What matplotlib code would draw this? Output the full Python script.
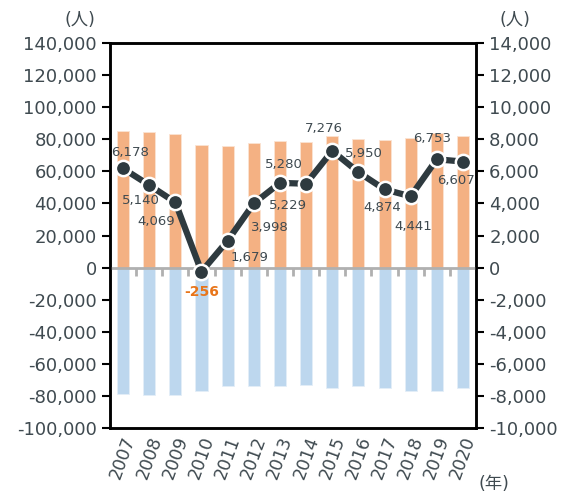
import matplotlib.pyplot as plt
import numpy as np

plt.rcParams['font.family'] = ['DejaVu Sans', 'Noto Sans CJK JP']

years = ['2007', '2008', '2009', '2010', '2011', '2012', '2013',
         '2014', '2015', '2016', '2017', '2018', '2019', '2020']
# births (positive bars) and deaths (negative bars), left axis
births = [85000, 84400, 83300, 76300, 75800, 77700, 79200,
          78100, 82100, 80000, 79400, 81000, 83800, 81900]
deaths = [-79000, -79400, -79600, -76700, -74000, -73500, -74000,
          -72900, -75000, -74000, -74800, -76700, -76900, -75200]
# natural change, right axis
change = [6178, 5140, 4069, -256, 1679, 3998, 5280,
          5229, 7276, 5950, 4874, 4441, 6753, 6607]
# label offsets in pixels (dx, dy)
label_off = [(7, 16), (-8, -15), (-19, -19), (0, -20), (22, -17), (16, -24), (4, 18),
             (-18, -22), (-8, 22), (6, 19), (-2, -18), (3, -30), (-5, 21), (-7, -19)]

txt = '#3f4a50'
fig = plt.figure(figsize=(5.69, 4.93), dpi=100)
ax = fig.add_axes([0.1933, 0.1318, 0.6433, 0.781])
x = np.arange(len(years))
ymin, ymax = -100000, 140000

ax.bar(x, births, width=0.46, color='#F4B183', edgecolor='#fbe3d3', linewidth=0.6, zorder=2)
ax.bar(x, deaths, width=0.46, color='#BDD7EE', edgecolor='#e4eef8', linewidth=0.6, zorder=2)
ax.set_xlim(-0.5, len(years) - 0.5)
ax.set_ylim(ymin, ymax)
ax.set_yticks(np.arange(ymin, ymax + 1, 20000))
ax.yaxis.set_major_formatter(plt.FuncFormatter(lambda v, p: f'{int(v):,}'))
ax.set_xticks(x)
ax.set_xticklabels(years, rotation=70, fontsize=12.5, color=txt)
ax.tick_params(axis='x', length=0, pad=4)
ax.tick_params(axis='y', labelsize=13, labelcolor=txt, direction='out', length=6, width=1.5)
for s in ax.spines.values():
    s.set_linewidth(1.8)
    s.set_color('black')

# zero line with category boundary ticks
ax.axhline(0, color='#b0b0b0', lw=2, zorder=3)
sec = ax.secondary_xaxis(-ymin / (ymax - ymin))
sec.xaxis.set_ticks_position('bottom')
sec.set_xticks(np.arange(0.5, len(years) - 1, 1))
sec.set_xticklabels([])
sec.tick_params(axis='x', direction='out', length=6, width=2, color='#b0b0b0')
sec.spines['bottom'].set_visible(False)
sec.spines['top'].set_visible(False)

ax2 = ax.twinx()
ax2.set_ylim(-10000, 14000)
ax2.set_yticks(np.arange(-10000, 14001, 2000))
ax2.yaxis.set_major_formatter(plt.FuncFormatter(lambda v, p: f'{int(v):,}'))
ax2.tick_params(axis='y', labelsize=13, labelcolor=txt, direction='out', length=6, width=1.5)
for s in ax2.spines.values():
    s.set_linewidth(1.8)
    s.set_color('black')

ax2.plot(x, change, color='#2e3a3f', lw=4.5, marker='o', markersize=11,
         markerfacecolor='#2e3a3f', markeredgecolor='white', markeredgewidth=1.8, zorder=5)

for i, v in enumerate(change):
    dx, dy = label_off[i]
    if v < 0:
        ax2.annotate(f'{v:,}', (x[i], v), xytext=(dx, dy), textcoords='offset pixels',
                     ha='center', va='center', fontsize=10, color='#E8751A', fontweight='bold')
    else:
        ax2.annotate(f'{v:,}', (x[i], v), xytext=(dx, dy), textcoords='offset pixels',
                     ha='center', va='center', fontsize=9.5, color=txt)

fig.text(80 / 569, 1 - 20 / 493, '(人)', ha='center', va='center', fontsize=12.5, color=txt)
fig.text(515 / 569, 1 - 20 / 493, '(人)', ha='center', va='center', fontsize=12.5, color=txt)
fig.text(494 / 569, 1 - 484 / 493, '(年)', ha='center', va='center', fontsize=12.5, color=txt)

fig.savefig('out.png', dpi=100)
